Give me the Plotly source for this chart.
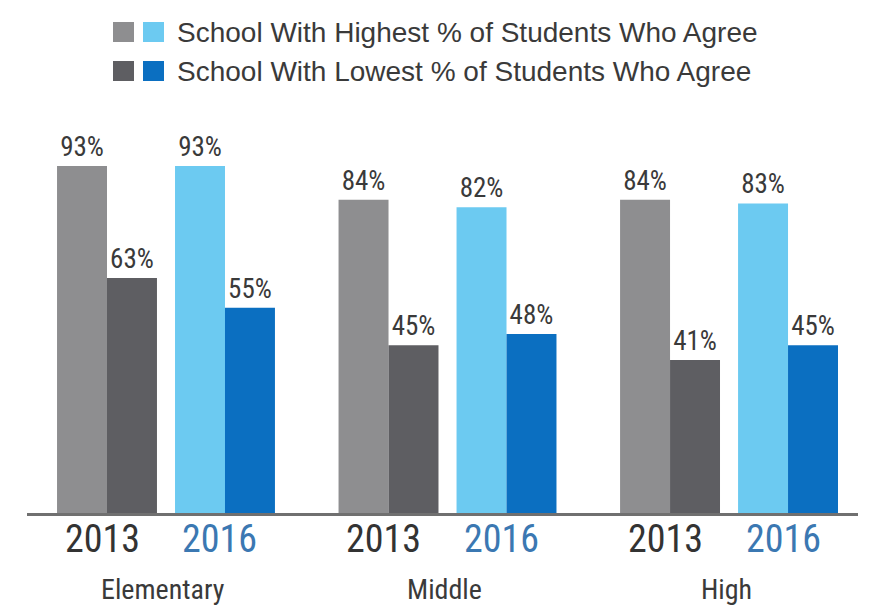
import plotly.graph_objects as go

levels = ["Elementary", "Middle", "High"]
years = ["2013", "2016"]
# highest / lowest % per level and year: [2013, 2016]
highest = {"Elementary": [93, 93], "Middle": [84, 82], "High": [84, 83]}
lowest = {"Elementary": [63, 55], "Middle": [45, 48], "High": [41, 45]}
legend_labels = ["School With Highest % of Students Who Agree",
                 "School With Lowest % of Students Who Agree"]

GRAY, DGRAY = "#8e8e90", "#5e5e62"
LBLUE, DBLUE = "#6ccaf1", "#0b6fc1"
TXT = "#3a3a3a"
YEAR_COL = {"2013": "#333333", "2016": "#3b78b2"}
NARROW = "Liberation Sans Narrow, Arial Narrow, Roboto Condensed, sans-serif"

GROUP_STEP = 2.386
xs, hi_vals, lo_vals, hi_cols, lo_cols, year_of = [], [], [], [], [], []
for g, lvl in enumerate(levels):
    for j, yr in enumerate(years):
        xs.append(g * GROUP_STEP + j)
        hi_vals.append(highest[lvl][j])
        lo_vals.append(lowest[lvl][j])
        hi_cols.append(GRAY if yr == "2013" else LBLUE)
        lo_cols.append(DGRAY if yr == "2013" else DBLUE)
        year_of.append(yr)

fig = go.Figure()
for vals, cols in [(hi_vals, hi_cols), (lo_vals, lo_cols)]:
    fig.add_trace(go.Bar(
        x=xs, y=vals, marker=dict(color=cols, line=dict(width=0)),
        text=[f"{v}%" for v in vals], textposition="outside",
        textfont=dict(family=NARROW, size=27, color=TXT),
        constraintext="none", cliponaxis=False, showlegend=False,
        hoverinfo="skip",
    ))

fig.update_layout(
    width=870, height=607,
    margin=dict(l=27, r=12, t=140, b=94),
    paper_bgcolor="white", plot_bgcolor="white",
    barmode="group", bargap=0.153, bargroupgap=0,
    showlegend=False,
    xaxis=dict(range=[-0.678, 6.365], showticklabels=False,
               showline=True, linecolor="#707070", linewidth=3,
               showgrid=False, zeroline=False, ticks="", fixedrange=True),
    yaxis=dict(range=[0, 100], visible=False, fixedrange=True),
)

# year labels under each bar pair
for x, yr in zip(xs, year_of):
    fig.add_annotation(x=x, y=-0.07, xref="x", yref="paper", xshift=-5,
                       text=yr, showarrow=False, yanchor="middle",
                       font=dict(family=NARROW, size=38, color=YEAR_COL[yr]))

# category labels under the year labels
for g, lvl in enumerate(levels):
    fig.add_annotation(x=g * GROUP_STEP + 0.5, y=-0.205, xref="x", yref="paper",
                       text=lvl, showarrow=False, yanchor="middle", xshift=-3,
                       font=dict(family=NARROW, size=28, color=TXT))

# custom two-swatch legend
legend_rows = [(legend_labels[0], GRAY, LBLUE, 32), (legend_labels[1], DGRAY, DBLUE, 71)]
for label, c1, c2, yc in legend_rows:
    for x0, col in [(113, c1), (143, c2)]:
        fig.add_shape(type="rect", xref="paper", yref="paper",
                      x0=(x0 - 27) / 831, x1=(x0 + 21 - 27) / 831,
                      y0=(607 - 94 - (yc + 10)) / 373, y1=(607 - 94 - (yc - 10)) / 373,
                      fillcolor=col, line=dict(width=0))
    fig.add_annotation(x=(175 - 27) / 831, y=(607 - 94 - yc) / 373, xref="paper", yref="paper",
                       text=label, showarrow=False, xanchor="left", yanchor="middle",
                       font=dict(family="Liberation Sans, Arial, sans-serif", size=28, color=TXT))

fig.write_html("out.html")
